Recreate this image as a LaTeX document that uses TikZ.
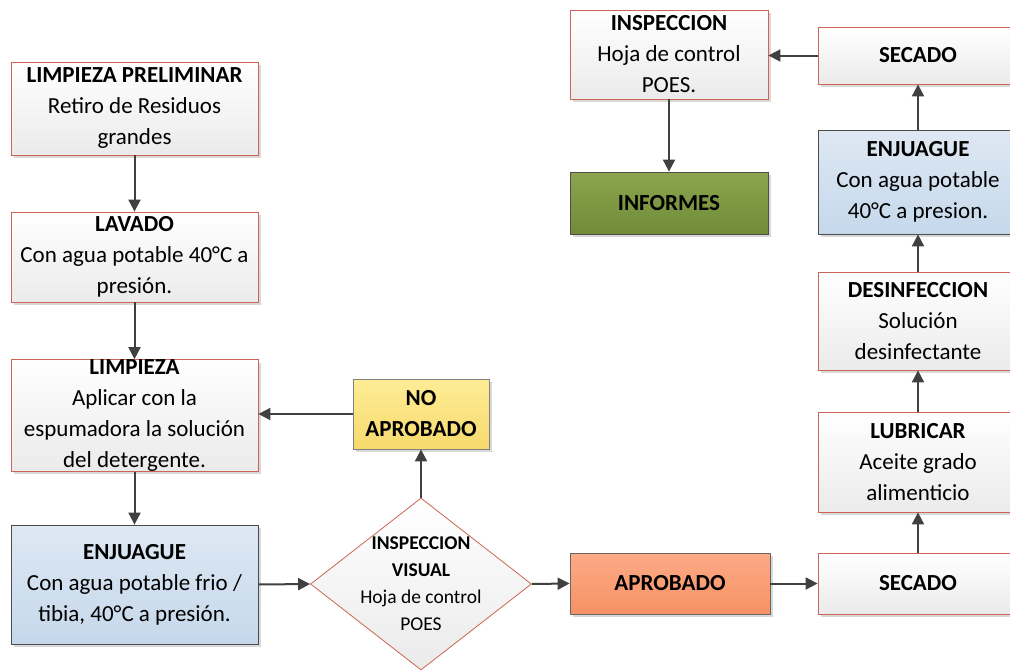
\documentclass[tikz,border=0pt]{standalone}
\usepackage{fontspec}
\setmainfont{Carlito}
\usetikzlibrary{shapes.geometric,arrows.meta,shadows}
\usepackage{xcolor}

\definecolor{boxred}{RGB}{205,100,85}
\definecolor{linegray}{RGB}{64,64,64}
\definecolor{bluetop}{RGB}{222,232,243}
\definecolor{bluebot}{RGB}{197,216,235}
\definecolor{yellowtop}{RGB}{254,236,150}
\definecolor{yellowbot}{RGB}{246,218,108}
\definecolor{orangetop}{RGB}{252,170,135}
\definecolor{orangebot}{RGB}{247,146,100}
\definecolor{greentop}{RGB}{140,165,78}
\definecolor{greenbot}{RGB}{112,140,55}

\tikzset{
  basebox/.style={rectangle, inner sep=0pt, align=center,
    font=\fontsize{23}{31}\selectfont,
    drop shadow={shadow xshift=3pt, shadow yshift=-3pt, fill=black, opacity=0.15}},
  whitebox/.style={basebox, draw=boxred, line width=0.8pt, top color=white, bottom color=black!8},
  bluebox/.style={basebox, draw=black!70, line width=0.8pt, top color=bluetop, bottom color=bluebot},
  yellowbox/.style={basebox, draw=black!50, line width=0.8pt, top color=yellowtop, bottom color=yellowbot},
  orangebox/.style={basebox, draw=black!60, line width=0.8pt, top color=orangetop, bottom color=orangebot},
  greenbox/.style={basebox, draw=black!70, line width=0.8pt, top color=greentop, bottom color=greenbot},
  decision/.style={diamond, inner sep=0pt, draw=boxred, line width=0.8pt,
    top color=white, bottom color=black!8,
    font=\fontsize{19.5}{27}\selectfont},
  link/.style={draw=linegray, line width=2pt, -{Triangle[length=12pt,width=12pt]}},
}

\begin{document}
\begin{tikzpicture}[x=1pt,y=-1pt]
  \useasboundingbox (0,0) rectangle (1010,672);

  % left column
  \node[whitebox, minimum width=247, minimum height=93] (prelim) at (134.5,108.5)
    {\textbf{LIMPIEZA PRELIMINAR}\\Retiro de Residuos\\grandes};
  \node[whitebox, minimum width=247, minimum height=90] (lavado) at (134.5,257)
    {\textbf{LAVADO}\\Con agua potable 40°C a\\presión.};
  \node[whitebox, minimum width=247, minimum height=111] (limpieza) at (134.5,415.5)
    {\textbf{LIMPIEZA}\\Aplicar con la\\espumadora la solución\\del detergente.};
  \node[bluebox, minimum width=247, minimum height=119] (enjizq) at (134.5,584.5)
    {\textbf{ENJUAGUE}\\Con agua potable frio /\\tibia, 40°C a presión.};

  % decision
  \node[decision, minimum width=221, minimum height=172] (visual) at (421,584)
    {\smash{\raisebox{-6pt}{\begin{tabular}{@{}c@{}}\textbf{INSPECCION}\\\textbf{VISUAL}\\Hoja de control\\POES\end{tabular}}}};
  \node[yellowbox, minimum width=136, minimum height=70] (noaprob) at (421,414)
    {\textbf{NO}\\\textbf{APROBADO}};
  \node[orangebox, minimum width=200, minimum height=61] (aprob) at (670,583.5)
    {\textbf{APROBADO}};

  % right column
  \node[whitebox, minimum width=200, minimum height=61] (secabajo) at (918,583.5)
    {\textbf{SECADO}};
  \node[whitebox, minimum width=200, minimum height=100] (lubricar) at (918,462)
    {\textbf{LUBRICAR}\\Aceite grado\\alimenticio};
  \node[whitebox, minimum width=200, minimum height=98] (desinf) at (918,321)
    {\textbf{DESINFECCION}\\Solución\\desinfectante};
  \node[bluebox, minimum width=200, minimum height=104] (enjder) at (918,182)
    {\textbf{ENJUAGUE}\\Con agua potable\\40°C a presion.};
  \node[whitebox, minimum width=200, minimum height=57] (secarriba) at (918,55.5)
    {\textbf{SECADO}};

  % top middle
  \node[whitebox, minimum width=198, minimum height=89] (inspeccion) at (669,54.5)
    {\textbf{INSPECCION}\\Hoja de control\\POES.};
  \node[greenbox, minimum width=198, minimum height=62] (informes) at (669,203)
    {\textbf{INFORMES}};

  % connectors
  \draw[link] (prelim) -- (lavado);
  \draw[link] (lavado) -- (limpieza);
  \draw[link] (limpieza) -- (enjizq);
  \draw[link] (enjizq.east) -- (visual.west);
  \draw[link] (visual) -- (noaprob);
  \draw[link] (noaprob.west) -- (noaprob.west -| limpieza.east);
  \draw[link] (visual.east) -- (aprob.west);
  \draw[link] (aprob) -- (secabajo);
  \draw[link] (secabajo) -- (lubricar);
  \draw[link] (lubricar) -- (desinf);
  \draw[link] (desinf) -- (enjder);
  \draw[link] (enjder) -- (secarriba);
  \draw[link] (secarriba.west) -- (secarriba.west -| inspeccion.east);
  \draw[link] (inspeccion) -- (informes);
\end{tikzpicture}
\end{document}
